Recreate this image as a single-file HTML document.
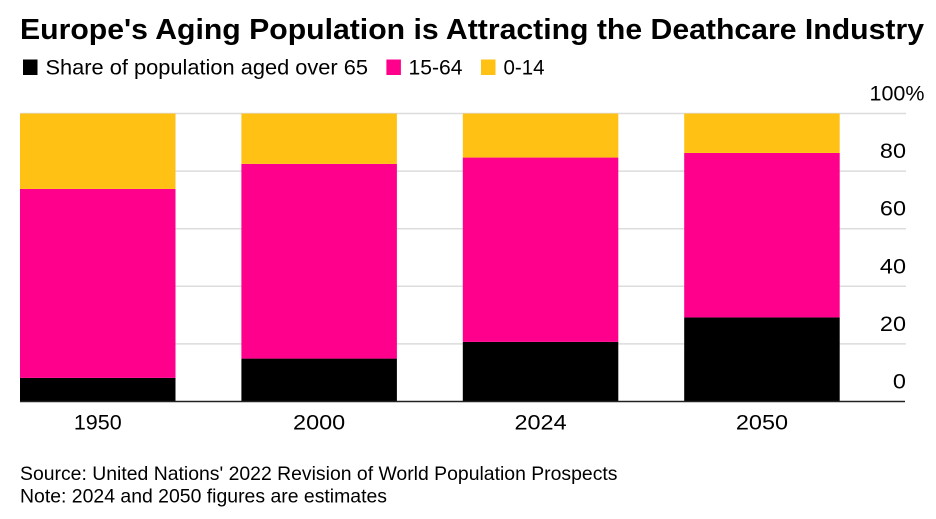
<!DOCTYPE html>
<html lang="en">
<head>
<meta charset="utf-8">
<title>Europe's Aging Population is Attracting the Deathcare Industry</title>
<style>
html,body{margin:0;padding:0;background:#fff;}
#chart{display:block;width:936px;height:519px;}
text{font-family:"Liberation Sans",Arial,sans-serif;fill:#000;}
</style>
</head>
<body>
<svg id="chart" xmlns="http://www.w3.org/2000/svg" width="936" height="519" viewBox="0 0 936 519">
  <text x="20" y="39" font-size="28.5" font-weight="700" textLength="904" lengthAdjust="spacingAndGlyphs">Europe's Aging Population is Attracting the Deathcare Industry</text>
  <g>
    <rect x="23" y="59.5" width="14.5" height="15.5" fill="#000000"/>
    <text x="45.5" y="74.5" font-size="21.5" textLength="322.5" lengthAdjust="spacingAndGlyphs">Share of population aged over 65</text>
    <rect x="386.4" y="59.5" width="14.5" height="15.5" fill="#ff008c"/>
    <text x="408.5" y="74.5" font-size="21.5" textLength="54" lengthAdjust="spacingAndGlyphs">15-64</text>
    <rect x="481" y="59.5" width="14.5" height="15.5" fill="#ffc214"/>
    <text x="503.5" y="74.5" font-size="21.5" textLength="41" lengthAdjust="spacingAndGlyphs">0-14</text>
  </g>
  <g id="grid"></g>
  <g id="bars"></g>
  <g id="yticks"></g>
  <g id="xticks"></g>
  <line x1="20" x2="905" y1="401.5" y2="401.5" stroke="#222" stroke-width="1.5"/>
  <text x="20" y="480" font-size="19.5" textLength="597.5" lengthAdjust="spacingAndGlyphs">Source: United Nations' 2022 Revision of World Population Prospects</text>
  <text x="20" y="502.5" font-size="19.5" textLength="367" lengthAdjust="spacingAndGlyphs">Note: 2024 and 2050 figures are estimates</text>
</svg>
<script>
const categories = ['1950', '2000', '2024', '2050'];
const over65 = [8.2, 14.9, 20.7, 29.2];
const age15to64 = [65.6, 67.6, 64.0, 57.1];
const age0to14 = [26.2, 17.5, 15.3, 13.7];
const yTickValues = [0, 20, 40, 60, 80, 100];
const yTickLabels = ['0', '20', '40', '60', '80', '100%'];

const SVG_NS = 'http://www.w3.org/2000/svg';
const plotLeft = 20, bandStep = 221.4, barWidth = 155.5;
const yBase = 401.5, yTop = 113.5;
function yScale(v) { return yBase - (v / 100) * (yBase - yTop); }
function xScale(i) { return plotLeft + i * bandStep; }
// The reference typeface has wider digits than Liberation Sans, except for a narrow "1".
function widenLabel(el, str) {
  const factor = str.indexOf('1') >= 0 ? 1.0 : 1.09;
  el.setAttribute('textLength', (el.getComputedTextLength() * factor).toFixed(2));
  el.setAttribute('lengthAdjust', 'spacingAndGlyphs');
}

const grid = document.getElementById('grid');
const yticks = document.getElementById('yticks');
yTickValues.forEach(function (v, i) {
  if (v > 0) {
    const line = document.createElementNS(SVG_NS, 'line');
    line.setAttribute('x1', plotLeft);
    line.setAttribute('x2', 906);
    line.setAttribute('y1', yScale(v));
    line.setAttribute('y2', yScale(v));
    line.setAttribute('stroke', '#dcdcdc');
    line.setAttribute('stroke-width', '1.5');
    
    
    grid.appendChild(line);
  }
  const label = document.createElementNS(SVG_NS, 'text');
  label.setAttribute('x', v === 100 ? 924.5 : 906);
  label.setAttribute('y', yScale(v) - 13);
  label.setAttribute('text-anchor', 'end');
  label.setAttribute('font-size', '21.5');
  
  
  label.textContent = yTickLabels[i];
  yticks.appendChild(label);
  widenLabel(label, yTickLabels[i]);
});

const barsGroup = document.getElementById('bars');
const xticks = document.getElementById('xticks');
const seriesList = [
  { key: 'over-65', values: over65, color: '#000000' },
  { key: '15-64', values: age15to64, color: '#ff008c' },
  { key: '0-14', values: age0to14, color: '#ffc214' }
];
categories.forEach(function (cat, i) {
  let cum = 0;
  seriesList.forEach(function (s) {
    const start = cum;
    cum += s.values[i];
    const rect = document.createElementNS(SVG_NS, 'rect');
    rect.setAttribute('x', xScale(i));
    rect.setAttribute('y', yScale(cum));
    rect.setAttribute('width', barWidth);
    rect.setAttribute('height', yScale(start) - yScale(cum));
    rect.setAttribute('fill', s.color);
    
    
    barsGroup.appendChild(rect);
  });
  const label = document.createElementNS(SVG_NS, 'text');
  label.setAttribute('x', xScale(i) + barWidth / 2);
  label.setAttribute('y', 429.5);
  label.setAttribute('text-anchor', 'middle');
  label.setAttribute('font-size', '21.5');
  
  
  label.textContent = cat;
  xticks.appendChild(label);
  widenLabel(label, cat);
});
</script>
</body>
</html>
